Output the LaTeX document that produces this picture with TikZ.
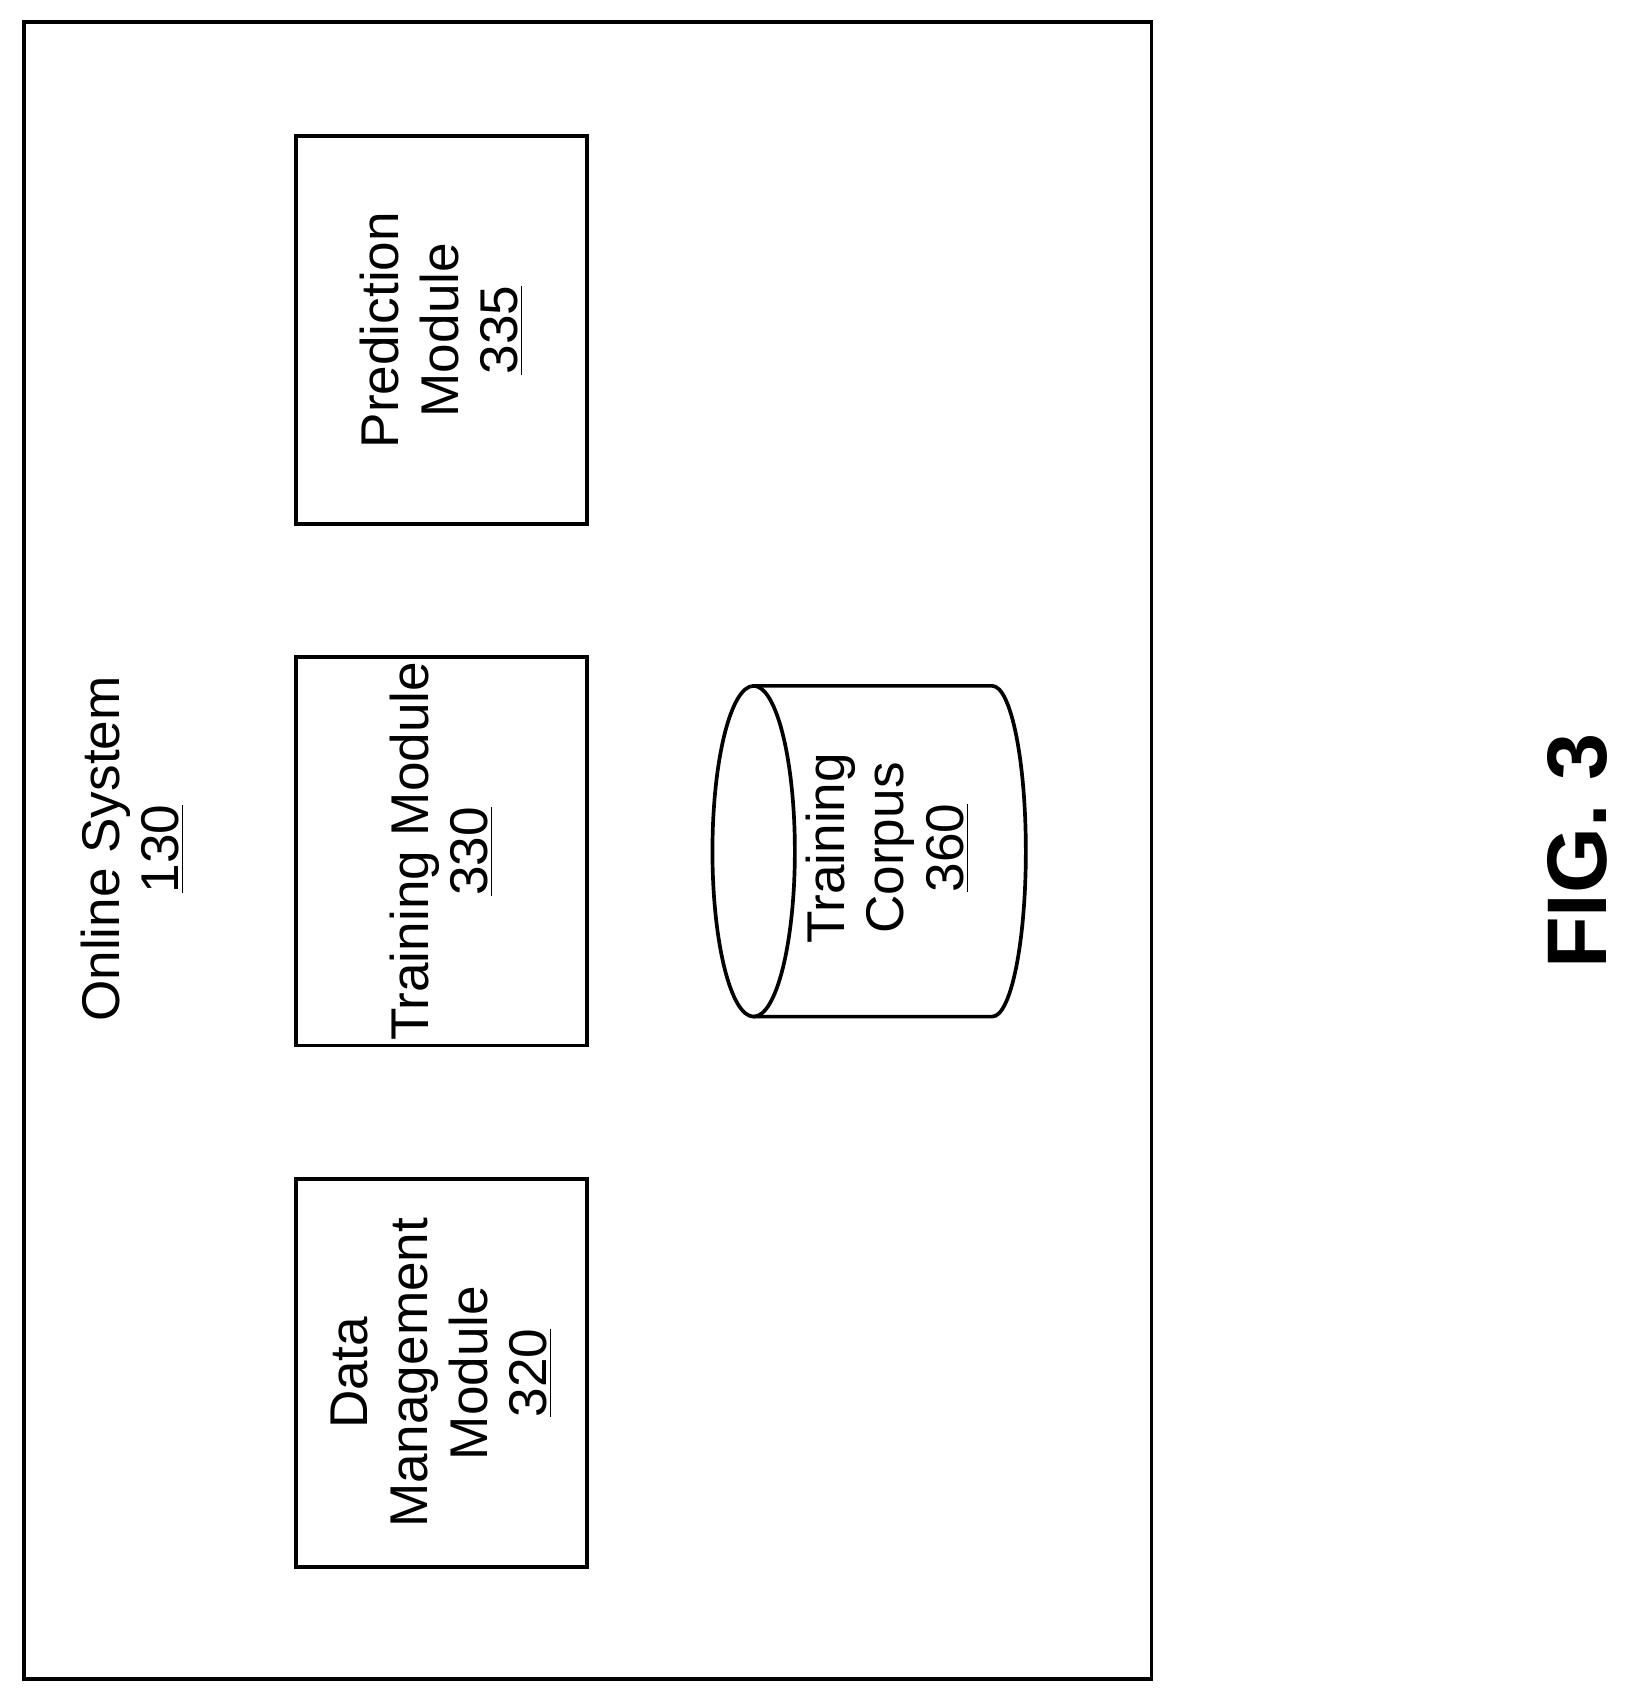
\documentclass[tikz,border=0pt]{standalone}
\usetikzlibrary{calc}
\usepackage{fontspec}
\setmainfont{Liberation Sans}
\begin{document}
\begin{tikzpicture}[x=0.5pt,y=-0.5pt,line width=1.7pt,
  txt/.style={font=\fontsize{24.5}{27.5}\selectfont,align=center},
  modbox/.style={draw,rotate=90,minimum width=179pt,minimum height=134pt,inner sep=0pt,txt}]
\useasboundingbox (0,0) rectangle (1500,1564);
\node[draw,minimum width=520pt,minimum height=764pt,inner sep=0pt] (outer) at (542,784) {};
\node[txt,rotate=90] (os) at (122,783) {Online System\\\underline{130}};
\node[modbox] (pred) at (407,304.5) {Prediction\\Module\\\underline{335}};
\node[modbox] (train) at (407,785) {Training Module\\\underline{330}};
\node[modbox] (data) at (407,1266) {Data\\Management\\Module\\\underline{320}};
\coordinate (c1) at (695,785);
\coordinate (c2) at (915,785);
\draw (c1) ellipse [x radius=38, y radius=152.5];
\draw ($(c1)+(0,-152.5)$) -- ($(c2)+(0,-152.5)$) arc[start angle=-90,end angle=90,x radius=31,y radius=152.5] -- ($(c1)+(0,152.5)$);
\node[txt,rotate=90] (corpus) at (818,782) {Training\\Corpus\\\underline{360}};
\node[rotate=90,font=\fontsize{39}{46}\selectfont\bfseries] (fig) at (1455,785) {FIG. 3};
\end{tikzpicture}
\end{document}
